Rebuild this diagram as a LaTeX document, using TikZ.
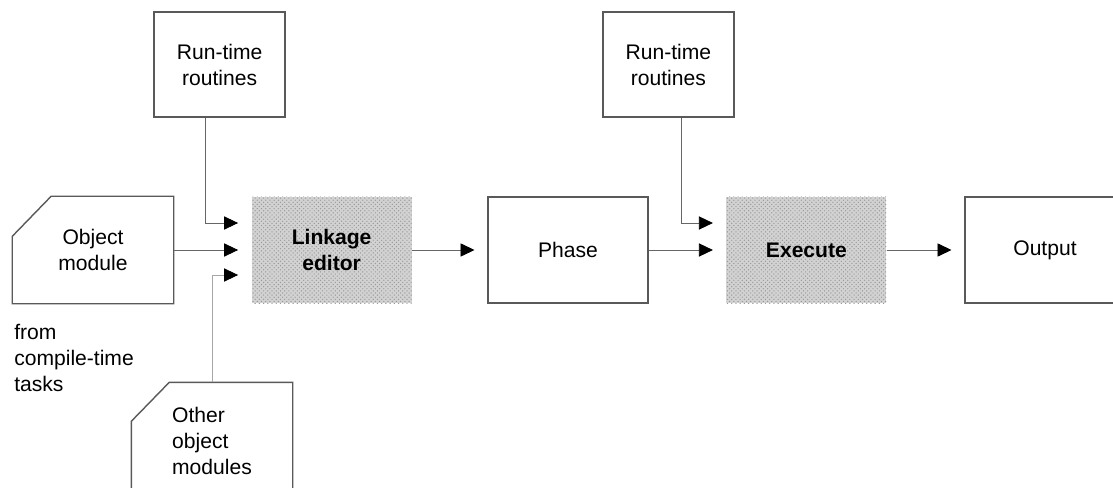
\documentclass[tikz,border=0pt]{standalone}
\usepackage{fontspec}
\setmainfont{Liberation Sans}
\usepackage{xcolor}
\usetikzlibrary{arrows.meta,patterns}
\newcommand{\boxfont}{\fontsize{15}{18.5}\selectfont}
\tikzset{
box/.style = {rectangle, draw=black!65, line width=1pt, minimum width = #1, minimum height=2.65cm, align=center},
box/.default = 4cm, % width of the boxes
file/.style = {box, draw=none},
chamfer/.style = {draw=black!65, line width=1pt},
tool/.style = {box, draw=none, fill=gray!35, postaction={pattern=crosshatch dots, pattern color=gray!80}, font=\boxfont\bfseries},
flow/.style = {draw=black!60, line width=0.6pt, -{Triangle[length=0.35cm,width=0.33cm,black]}, shorten >=0.32cm},
}

\begin{document}
\begin{tikzpicture}[font=\boxfont]

    \useasboundingbox (0,0) rectangle (27.825,12.175);
    \clip (0,0) rectangle (27.825,12.175);

    \node[box=3.275cm, minimum height=2.625cm] (rtA) at (5.49,10.56) {Run-time\\routines};
    \node[box=3.275cm, minimum height=2.625cm] (rtB) at (16.71,10.56) {Run-time\\routines};

    \node[file] (objmod) at (2.325,5.925) {Object\\module};
    \node[tool] (linked) at (8.29,5.925) {Linkage\\editor};
    \node[box] (phase) at (14.2,5.925) {Phase};
    \node[tool] (exec) at (20.16,5.925) {Execute};
    \node[box] (output) at (26.125,5.925) {Output};

    \node[file, minimum height=2.9cm, align=left] (others) at (5.3,1.15) {Other\\object\\modules};
    \node[anchor=west, inner sep=0pt, align=left] (fromtxt) at (0.35,3.22) {from\\compile-time\\tasks};

    % cut corners of the module boxes
    \draw[chamfer] (objmod.north east) -- (objmod.south east) -- (objmod.south west) -- ([yshift=-1cm]objmod.north west) -- ([xshift=0.97cm]objmod.north west) -- cycle;
    \draw[chamfer] (others.north east) -- (others.south east) -- (others.south west) -- ([yshift=-0.975cm]others.north west) -- ([xshift=0.95cm]others.north west) -- cycle;

\draw[flow] ([xshift=-0.36cm]rtA.south) |- ([yshift=0.675cm]linked.west);
\draw[flow] (objmod) edge (linked);
\draw[flow, draw=black!35] (others.north) |- ([yshift=-0.625cm]linked.west);
\draw[flow] (linked) edge (phase);
\draw[flow] ([xshift=0.32cm]rtB.south) |- ([yshift=0.675cm]exec.west);
\draw[flow] (phase) edge (exec);
\draw[flow] (exec) edge (output);


\end{tikzpicture}
\end{document}
